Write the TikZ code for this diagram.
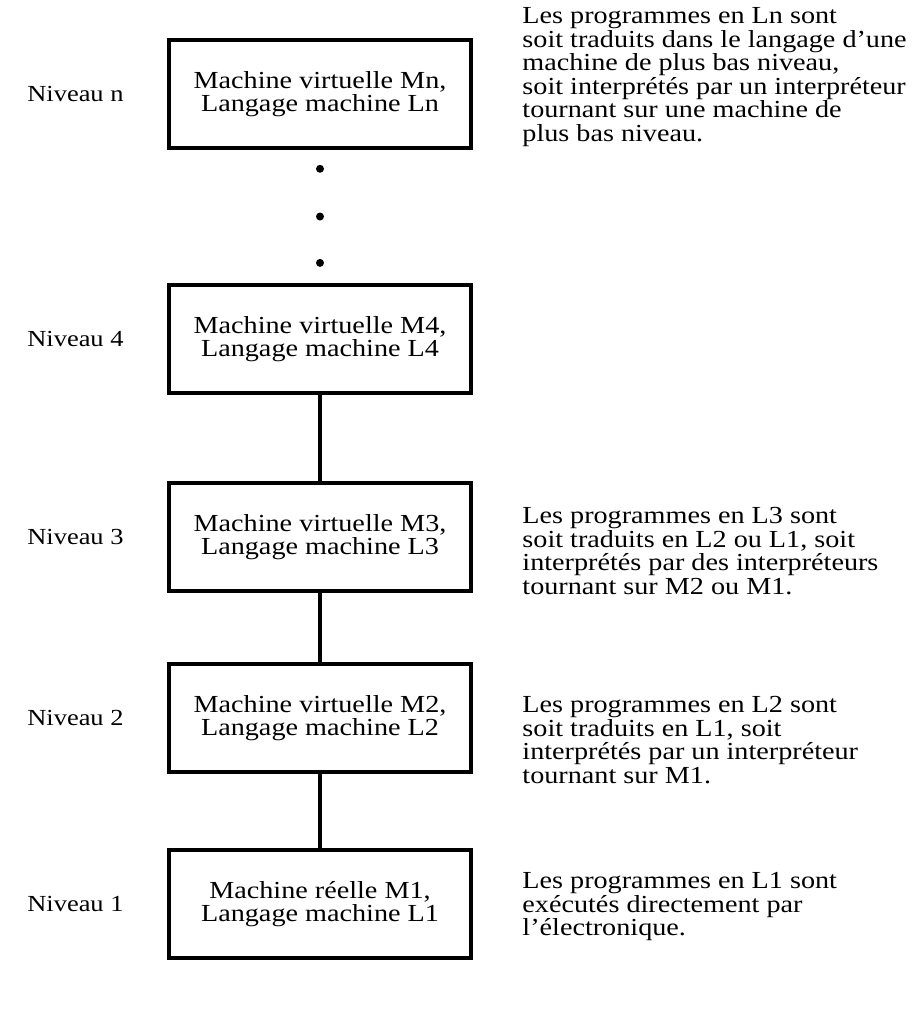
\documentclass[tikz,border=0pt]{standalone}
\usepackage{fontspec}
\setmainfont{Liberation Serif}[FakeStretch=1.15]
\usetikzlibrary{positioning}
\usetikzlibrary{calc}

\begin{document}
\begin{tikzpicture}[x=1pt,y=-1pt,
		every node/.style={font=\fontsize{24.5}{23.5}\selectfont,text=black},
		box/.style={draw=black,line width=4.5pt,minimum width=302pt,minimum height=108pt,align=center,inner sep=0pt},
		level/.style={inner sep=0pt,font=\fontsize{23}{23}\selectfont},
		note/.style={align=left,inner sep=0pt},
		link/.style={draw=black,line width=4pt}]
		\useasboundingbox (0,0) rectangle (914,1012);
		
		\coordinate(A) at (320,94);
		\coordinate(B) at (320,339);
		\coordinate(C) at (320,537);
		\coordinate(D) at (320,718);
		\coordinate(E) at (320,904);
		
		\node[box] (Mn) at (A) {Machine virtuelle Mn,\\Langage machine Ln};
		\node[box] (M4) at (B) {Machine virtuelle M4,\\Langage machine L4};
		\node[box] (M3) at (C) {Machine virtuelle M3,\\Langage machine L3};
		\node[box] (M2) at (D) {Machine virtuelle M2,\\Langage machine L2};
		\node[box] (M1) at (E) {Machine r\'eelle M1,\\Langage machine L1};
		
		% niveaux
		\node[level,left=43pt of Mn] (Nn) {Niveau n};
		\node[level,left=43pt of M4] (N4) {Niveau 4};
		\node[level,left=43pt of M3] (N3) {Niveau 3};
		\node[level,left=43pt of M2] (N2) {Niveau 2};
		\node[level,left=43pt of M1] (N1) {Niveau 1};
		
		% points de suspension
		\coordinate(P1) at ($(Mn.south)!0.14!(M4.north)$);
		\coordinate(P2) at ($(Mn.south)!0.5!(M4.north)$);
		\coordinate(P3) at ($(Mn.south)!0.85!(M4.north)$);
		\fill (P1) circle (4);
		\fill (P2) circle (4);
		\fill (P3) circle (4);
		
		\draw[link] (M4) -- (M3);
		\draw[link] (M3) -- (M2);
		\draw[link] (M2) -- (M1);
		
		% commentaires
		\node[note,right=49pt of Mn,yshift=17pt] (Tn) {Les programmes en Ln sont\\soit traduits dans le langage d'une\\machine de plus bas niveau,\\soit interpr\'et\'es par un interpr\'eteur\\tournant sur une machine de\\plus bas niveau.};
		\node[note,right=49pt of M3,yshift=-14pt] (T3) {Les programmes en L3 sont\\soit traduits en L2 ou L1, soit\\interpr\'et\'es par des interpr\'eteurs\\tournant sur M2 ou M1.};
		\node[note,right=49pt of M2,yshift=-22pt] (T2) {Les programmes en L2 sont\\soit traduits en L1, soit\\interpr\'et\'es par un interpr\'eteur\\tournant sur M1.};
		\node[note,right=49pt of M1,yshift=-3pt] (T1) {Les programmes en L1 sont\\ex\'ecut\'es directement par\\l'\'electronique.};
	\end{tikzpicture}
\end{document}
